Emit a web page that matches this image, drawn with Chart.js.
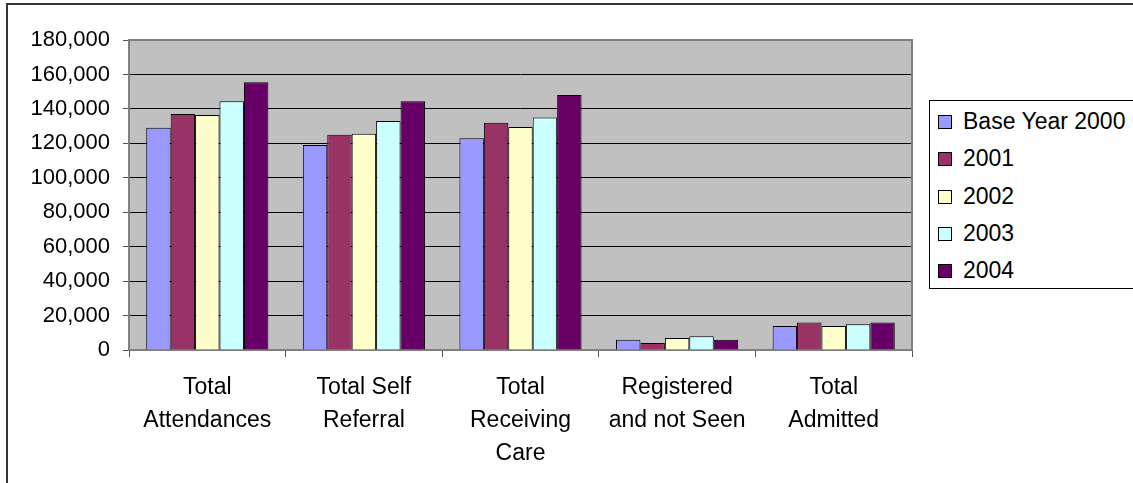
<!DOCTYPE html>
<html>
<head>
<meta charset="utf-8">
<script src="https://cdn.jsdelivr.net/npm/chart.js@4/dist/chart.umd.min.js"></script>
<style>
  html, body { margin: 0; padding: 0; background: #fff; overflow: hidden; }
  #wrap { position: relative; width: 1133px; height: 483px; }
  #frame { position: absolute; left: 6px; top: 3px; width: 2000px; height: 2000px; border: 2px solid #333; }
  canvas { position: absolute; left: 0; top: 0; }
  #legend { position: absolute; left: 929px; top: 100px; width: 400px; height: 185px;
            border: 1px solid #000; background: #fff; padding-top: 2px;
            font-family: "Liberation Sans", Arial, sans-serif; font-size: 23px; color: #000; }
  .item { height: 37.3px; line-height: 37.3px; position: relative; padding-left: 33px; }
  .sw { position: absolute; left: 8px; top: 12px; width: 12px; height: 12px; border: 1px solid #000; }
</style>
</head>
<body>
<div id="wrap">
  <div id="frame"></div>
  <canvas id="myChart" width="1133" height="483"></canvas>
  <div id="legend"></div>
</div>
<script>
let categories = [
    ['Total', 'Attendances'],
    ['Total Self', 'Referral'],
    ['Total', 'Receiving', 'Care'],
    ['Registered', 'and not Seen'],
    ['Total', 'Admitted']
];
let seriesNames = ['Base Year 2000', '2001', '2002', '2003', '2004'];
let base2000 = [129000, 119000, 123000, 6000, 14000];
let y2001 = [137000, 125000, 132000, 4000, 16000];
let y2002 = [136500, 125500, 129500, 7000, 14000];
let y2003 = [144500, 133000, 135000, 8000, 15000];
let y2004 = [155500, 144500, 148000, 6000, 16000];
let yMax = 180000;
let yStep = 20000;

let colors = ['#9999ff', '#993366', '#ffffcc', '#ccffff', '#660066'];
let font = "'Liberation Sans', Arial, sans-serif";

// grey plot area with a grey frame round it
const plotFrame = {
    id: 'plotFrame',
    beforeDraw(chart) {
        const a = chart.chartArea;
        const ctx = chart.ctx;
        ctx.save();
        ctx.fillStyle = '#c0c0c0';
        ctx.fillRect(a.left, a.top, a.right - a.left, a.bottom - a.top);
        ctx.restore();
    },
    beforeDatasetsDraw(chart) {
        const a = chart.chartArea;
        const ctx = chart.ctx;
        ctx.save();
        ctx.strokeStyle = '#808080';
        ctx.lineWidth = 2;
        ctx.strokeRect(a.left, a.top, a.right - a.left, a.bottom - a.top);
        ctx.restore();
    }
};

function createLegend() {
    const box = document.getElementById('legend');
    seriesNames.forEach((name, i) => {
        const item = document.createElement('div');
        item.className = 'item';
        const sw = document.createElement('span');
        sw.className = 'sw';
        sw.style.background = colors[i];
        item.appendChild(sw);
        item.appendChild(document.createTextNode(name));
        box.appendChild(item);
    });
}

function createChart() {
    const ctx = document.getElementById('myChart');
    const series = [base2000, y2001, y2002, y2003, y2004];

    new Chart(ctx, {
        type: 'bar',
        data: {
            labels: categories,
            datasets: series.map((values, i) => ({
                label: seriesNames[i],
                data: values,
                backgroundColor: colors[i],
                borderColor: '#000',
                borderWidth: 1,
                categoryPercentage: 0.78,
                barPercentage: 1
            }))
        },
        options: {
            responsive: false,
            animation: false,
            layout: { padding: { left: 0, top: 40, right: 221, bottom: 0 } },
            plugins: {
                legend: { display: false },
                tooltip: { enabled: false }
            },
            scales: {
                x: {
                    afterFit: (scale) => { scale.height = 133; },
                    border: { display: false },
                    grid: {
                        offset: true,
                        drawOnChartArea: false,
                        tickLength: 7,
                        tickColor: '#555'
                    },
                    ticks: {
                        color: '#000',
                        font: { family: font, size: 23, lineHeight: 1.43 },
                        padding: 14,
                        maxRotation: 0,
                        autoSkip: false
                    }
                },
                y: {
                    min: 0,
                    max: yMax,
                    afterFit: (scale) => { scale.width = 129; },
                    border: { display: false },
                    grid: {
                        color: (c) => (c.tick && (c.tick.value === 0 || c.tick.value === yMax)) ? 'rgba(0,0,0,0)' : '#000',
                        tickLength: 6,
                        tickColor: '#555'
                    },
                    ticks: {
                        stepSize: yStep,
                        color: '#000',
                        padding: 13,
                        font: { family: font, size: 22 },
                        callback: (v) => v.toLocaleString('en-US')
                    }
                }
            }
        },
        plugins: [plotFrame]
    });
}

createLegend();
createChart();
</script>
</body>
</html>
